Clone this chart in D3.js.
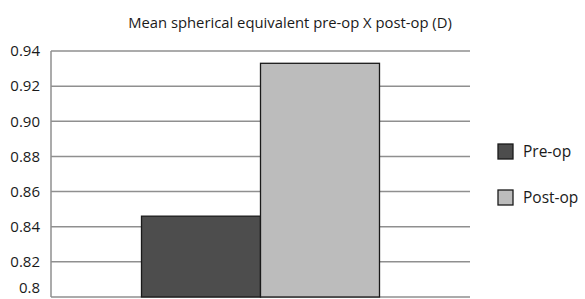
<!DOCTYPE html>
<html>
<head>
<meta charset="utf-8">
<script src="https://cdn.jsdelivr.net/npm/d3@7"></script>
<style>
  body {margin: 0; background: #fff;}
  svg text {font-family: 'Open Sans', sans-serif; fill: #1a1a1a;}
</style>
</head>
<body>
<div id="graph"></div>
<script>
var title = 'Mean spherical equivalent pre-op X post-op (D)'
var series = ['Pre-op', 'Post-op']
var values = [0.846, 0.933]
var colors = ['#4d4d4d', '#bcbcbc']
var yTicks = [0.8, 0.82, 0.84, 0.86, 0.88, 0.90, 0.92, 0.94]

var width = 585, height = 299
var margin = {left: 51, right: 115, top: 51, bottom: 2}

var svg = d3.select('#graph').append('svg')
  .attr('width', width).attr('height', height)

var g = svg.append('g').attr('transform', `translate(${margin.left},${margin.top})`)
var w = width - margin.left - margin.right
var h = height - margin.top - margin.bottom

var y = d3.scaleLinear().domain([0.8, 0.94]).range([h, 0])
var x0 = d3.scaleBand().domain(['all']).range([0, w]).padding(0.2755)
var x1 = d3.scaleBand().domain(series).range([0, x0.bandwidth()])

// gridlines
g.selectAll('line.grid').data(yTicks).join('line')
  .attr('class', 'grid')
  .attr('x1', 0).attr('x2', w)
  .attr('y1', d => y(d)).attr('y2', d => y(d))
  .attr('stroke', '#8f8f8f').attr('stroke-width', 1.5)

// left axis line
g.append('line')
  .attr('x1', 0).attr('x2', 0).attr('y1', 0).attr('y2', h)
  .attr('stroke', '#8f8f8f').attr('stroke-width', 1.5)

// y tick labels
var yAxis = g.append('g')
  .call(d3.axisLeft(y).tickValues(yTicks)
    .tickFormat(d => d == 0.8 ? '0.8' : d3.format('.2f')(d))
    .tickSize(0).tickPadding(11))
yAxis.select('.domain').remove()
yAxis.selectAll('text')
  .style('font-size', '15px')
  .style('font-family', "'Open Sans', sans-serif")
  .attr('fill', '#1a1a1a')
  .attr('dy', d => d == 0.8 ? '-0.28em' : '0.32em')

// bars
g.selectAll('rect.bar').data(values).join('rect')
  .attr('class', 'bar')
  .attr('x', (d, i) => x0('all') + x1(series[i]))
  .attr('width', x1.bandwidth())
  .attr('y', d => y(d))
  .attr('height', d => h - y(d))
  .attr('fill', (d, i) => colors[i])
  .attr('stroke', '#1a1a1a').attr('stroke-width', 1.3)

// title
svg.append('text')
  .attr('x', 290).attr('y', 28)
  .attr('text-anchor', 'middle')
  .style('font-size', '14.8px')
  .text(title)

// legend
var leg = svg.append('g').attr('transform', 'translate(498,144)')
var item = leg.selectAll('g').data(series).join('g')
  .attr('transform', (d, i) => `translate(0,${i * 46})`)
item.append('rect')
  .attr('width', 15).attr('height', 15)
  .attr('fill', (d, i) => colors[i])
  .attr('stroke', '#1a1a1a').attr('stroke-width', 1.3)
item.append('text')
  .attr('x', 25).attr('y', 13)
  .style('font-size', '15.5px')
  .text(d => d)
</script>
</body>
</html>
